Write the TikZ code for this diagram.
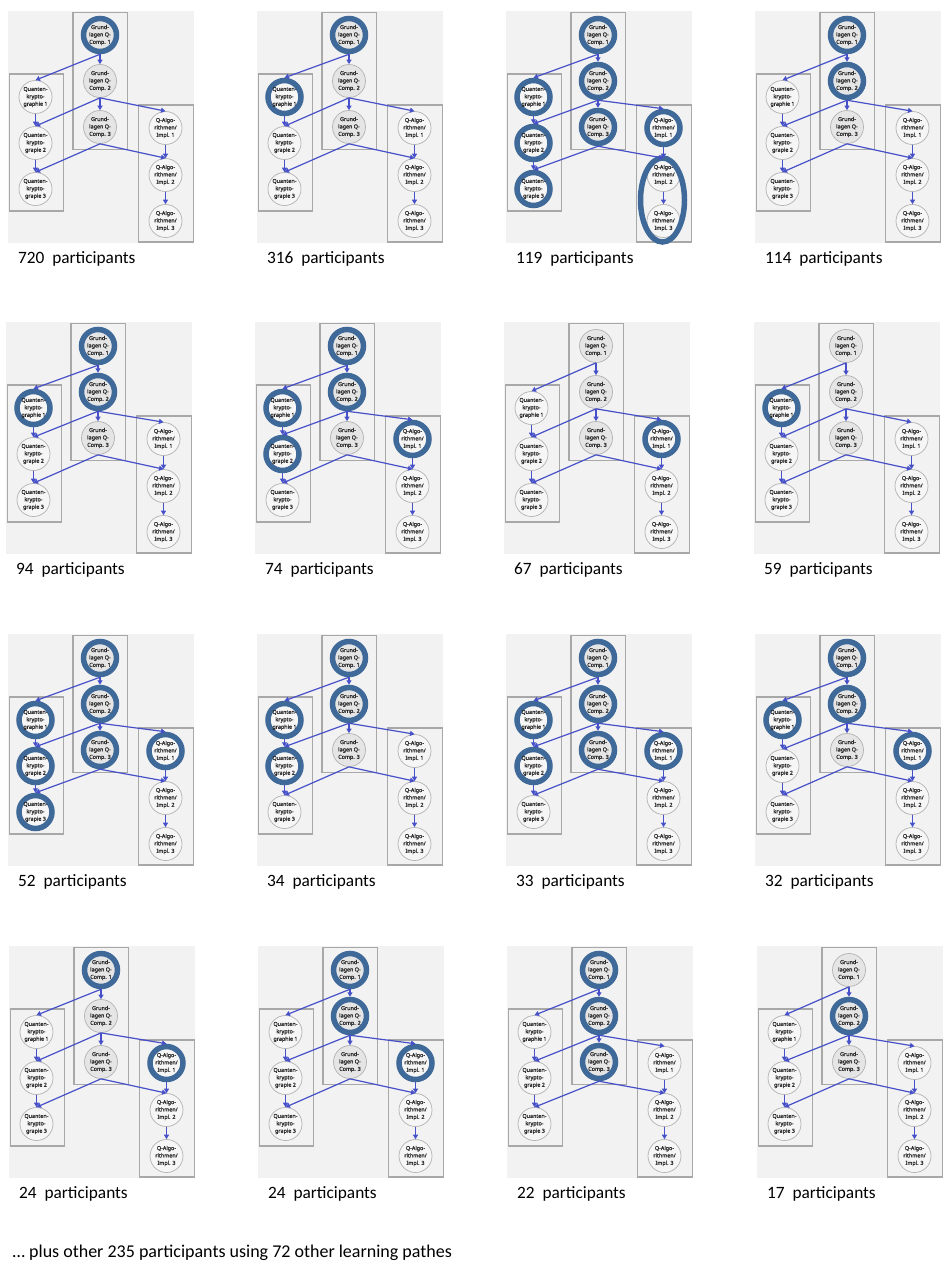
\documentclass[tikz,border=0pt]{standalone}
\usepackage{fontspec}
\setmainfont{Carlito}
\newfontfamily\nodefont[FakeBold=1.6]{Noto Sans}
\usetikzlibrary{arrows.meta}
\definecolor{panelbg}{RGB}{242,242,242}
\definecolor{boxgray}{RGB}{168,168,168}
\definecolor{circgray}{RGB}{178,178,178}
\definecolor{gfill}{RGB}{229,229,229}
\definecolor{ofill}{RGB}{246,246,246}
\definecolor{ringblue}{RGB}{62,105,152}
\definecolor{edgeblue}{RGB}{70,80,200}
\definecolor{ntext}{RGB}{45,45,45}
\tikzset{
  basenode/.style={circle, draw=circgray, line width=0.7pt, minimum size=33pt, inner sep=0pt,
    align=center, text=ntext, font=\nodefont\fontsize{5.4}{7.4}\selectfont},
  gnode/.style={basenode, fill=gfill},
  onode/.style={basenode, fill=ofill},
  hl/.style={draw=ringblue, line width=5.5pt},
  hlring/.style={draw=ringblue, line width=5.5pt},
  boxline/.style={draw=boxgray, line width=1.2pt},
  edge/.style={draw=edgeblue, line width=1.2pt, -{Triangle[length=4.5pt,width=5pt]}},
  lab/.style={anchor=base west, inner sep=0pt, font=\fontsize{17.3}{20}\selectfont},
}
\newcommand\lpath[6]{%
\begin{scope}[shift={(#2,#3)},
  hG1/.style={}, hG2/.style={}, hG3/.style={},
  hQ1/.style={}, hQ2/.style={}, hQ3/.style={},
  hA1/.style={}, hA2/.style={}, hA3/.style={}, #5]
  \fill[panelbg] (0,0) rectangle (186,232);
  \draw[boxline] (65,1.3) rectangle (119.5,138.5);
  \draw[boxline] (1.3,63) rectangle (55.5,200);
  \draw[boxline] (130.5,94) rectangle (185.5,231);
  \node[gnode,hG1] (#1G1) at (92,24) {Grund-\\lagen Q-\\Comp. 1};
  \node[gnode,hG2] (#1G2) at (92,70) {Grund-\\lagen Q-\\Comp. 2};
  \node[gnode,hG3] (#1G3) at (92,116) {Grund-\\lagen Q-\\Comp. 3};
  \node[onode,hQ1] (#1Q1) at (27.5,86) {Quanten-\\krypto-\\graphie 1};
  \node[onode,hQ2] (#1Q2) at (27.5,132) {Quanten-\\krypto-\\grapie 2};
  \node[onode,hQ3] (#1Q3) at (27.5,178) {Quanten-\\krypto-\\grapie 3};
  \node[onode,hA1] (#1A1) at (157.5,117) {Q-Algo-\\rithmen/\\Impl. 1};
  \node[onode,hA2] (#1A2) at (157.5,164) {Q-Algo-\\rithmen/\\Impl. 2};
  \node[onode,hA3] (#1A3) at (157.5,210) {Q-Algo-\\rithmen/\\Impl. 3};
  #6
  \draw[edge] (#1G1.south) -- (#1G2.north);
  \draw[edge] (#1G1.south) -- (#1Q1.north);
  \draw[edge] (#1G2.south) -- (#1G3.north);
  \draw[edge] (#1G2.south) -- (#1Q2.north);
  \draw[edge] (#1G2.south) -- (#1A1.north);
  \draw[edge] (#1G3.south) -- (#1Q3.north);
  \draw[edge] (#1G3.south) -- (#1A2.north);
  \draw[edge] (#1Q1.south) -- (#1Q2.north);
  \draw[edge] (#1Q2.south) -- (#1Q3.north);
  \draw[edge] (#1A1.south) -- (#1A2.north);
  \draw[edge] (#1A2.south) -- (#1A3.north);
  \node[lab] (#1L) at (10,252.5) {#4~~participants};
\end{scope}}
\begin{document}
\begin{tikzpicture}[x=1pt,y=-1pt]
\useasboundingbox (0,0) rectangle (952,1269);
\fill[white] (0,0) rectangle (952,1269);
% row 1
\lpath{pa}{8}{11}{720}{hG1/.style=hl}{}
\lpath{pb}{257}{11}{316}{hG1/.style=hl,hQ1/.style=hl}{}
\lpath{pc}{506}{11}{119}{hG1/.style=hl,hG2/.style=hl,hG3/.style=hl,hQ1/.style=hl,hQ2/.style=hl,hQ3/.style=hl,hA1/.style=hl}{\draw[hlring] (156.5,189) ellipse [x radius=22pt, y radius=42pt];}
\lpath{pd}{755}{11}{114}{hG1/.style=hl,hG2/.style=hl}{}
% row 2
\lpath{pe}{6}{322}{94}{hG1/.style=hl,hG2/.style=hl,hQ1/.style=hl}{}
\lpath{pf}{255}{322}{74}{hG1/.style=hl,hG2/.style=hl,hQ1/.style=hl,hQ2/.style=hl,hA1/.style=hl}{}
\lpath{pg}{504}{322}{67}{hA1/.style=hl}{}
\lpath{ph}{754}{322}{59}{hQ1/.style=hl}{}
% row 3
\lpath{pi}{8}{634}{52}{hG1/.style=hl,hG2/.style=hl,hG3/.style=hl,hQ1/.style=hl,hQ2/.style=hl,hQ3/.style=hl,hA1/.style=hl}{}
\lpath{pj}{257}{634}{34}{hG1/.style=hl,hG2/.style=hl,hQ1/.style=hl,hQ2/.style=hl}{}
\lpath{pk}{506}{634}{33}{hG1/.style=hl,hG2/.style=hl,hG3/.style=hl,hQ1/.style=hl,hQ2/.style=hl,hA1/.style=hl}{}
\lpath{pl}{755}{634}{32}{hG1/.style=hl,hG2/.style=hl,hQ1/.style=hl,hA1/.style=hl}{}
% row 4
\lpath{pm}{9}{946}{24}{hG1/.style=hl,hA1/.style=hl}{}
\lpath{pn}{258}{946}{24}{hG1/.style=hl,hG2/.style=hl,hA1/.style=hl}{}
\lpath{po}{507}{946}{22}{hG1/.style=hl,hG2/.style=hl,hG3/.style=hl}{}
\lpath{pp}{757}{946}{17}{hG2/.style=hl}{}
\node[lab, font=\fontsize{18}{21}\selectfont] (more) at (12.5,1257) {… plus other 235 participants using 72 other learning pathes};
\end{tikzpicture}
\end{document}
